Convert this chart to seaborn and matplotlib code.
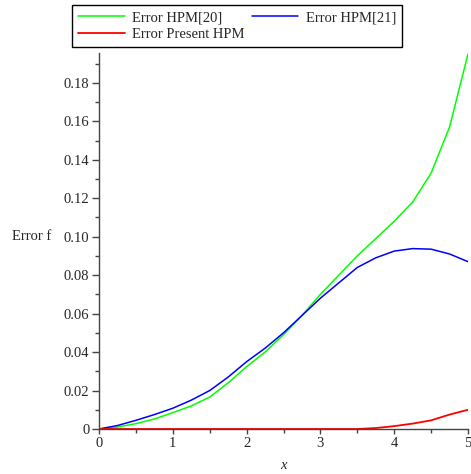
import numpy as np
import pandas as pd
import matplotlib
matplotlib.use('Agg')
import matplotlib.pyplot as plt
import seaborn as sns
from matplotlib.ticker import MultipleLocator, FuncFormatter

x_vals = [0, 0.25, 0.5, 0.75, 1, 1.25, 1.5, 1.75, 2, 2.25, 2.5, 2.75, 3,
          3.25, 3.5, 3.75, 4, 4.25, 4.5, 4.75, 5]
err_hpm20 = [0, 0.001, 0.0028, 0.0052, 0.0085, 0.012, 0.0166, 0.024, 0.0324, 0.040,
             0.049, 0.059, 0.070, 0.080, 0.090, 0.099, 0.108, 0.118, 0.133, 0.157, 0.195]
err_hpm21 = [0, 0.0018, 0.0045, 0.0075, 0.0108, 0.015, 0.020, 0.027, 0.035, 0.042,
             0.050, 0.059, 0.068, 0.076, 0.084, 0.089, 0.0925, 0.0938, 0.0935, 0.091, 0.087]
err_present = [0, 0, 0, 0, 0, 0, 0, 0, 0, 0, 0, 0, 0, 0, 0, 0.0005, 0.0015,
               0.0028, 0.0045, 0.0075, 0.010]

sns.set_style('ticks')
plt.rcParams['font.family'] = ['Liberation Serif', 'DejaVu Serif']

fig = plt.figure(figsize=(4.71, 4.74), dpi=100)
ax = fig.add_axes([99 / 471, 45 / 474, 369 / 471, 376 / 474])

sns.lineplot(x=x_vals, y=err_hpm20, ax=ax, color='#00ff00', linewidth=1.1, label='Error HPM[20]')
sns.lineplot(x=x_vals, y=err_hpm21, ax=ax, color='#0000ff', linewidth=1.1, label='Error HPM[21]')
sns.lineplot(x=x_vals, y=err_present, ax=ax, color='#ff0000', linewidth=1.3, label='Error Present HPM')

handles, labels = ax.get_legend_handles_labels()
ax.get_legend().remove()
order = [0, 2, 1]
leg = fig.legend([handles[i] for i in order], [labels[i] for i in order],
                 loc='upper left', bbox_to_anchor=(72 / 471, 1 - 5 / 474), ncol=2,
                 fontsize=10.5, frameon=True, fancybox=False, edgecolor='black',
                 handlelength=3.2, columnspacing=0.5, borderpad=0.4, labelspacing=0.25,
                 handletextpad=0.5, borderaxespad=0)
leg.get_frame().set_linewidth(1.0)
leg.get_frame().set_alpha(1)

ax.set_xlim(0, 5)
ax.set_ylim(0, 0.1955)
ax.xaxis.set_major_locator(MultipleLocator(1))
ax.xaxis.set_minor_locator(MultipleLocator(0.5))
ax.yaxis.set_major_locator(MultipleLocator(0.02))
ax.yaxis.set_minor_locator(MultipleLocator(0.01))
ax.yaxis.set_major_formatter(FuncFormatter(lambda v, p: '0' if abs(v) < 1e-9 else f'{v:.2f}'))
ax.xaxis.set_major_formatter(FuncFormatter(lambda v, p: f'{v:g}'))

sns.despine(ax=ax)
for s in ['left', 'bottom']:
    ax.spines[s].set_color('#444444')
    ax.spines[s].set_linewidth(1.0)
ax.tick_params(which='both', width=1, color='#444444')
ax.tick_params(axis='y', which='major', length=5, labelsize=10.5, pad=2)
ax.tick_params(axis='y', which='minor', length=3)
ax.tick_params(axis='x', which='major', length=3.6, labelsize=10.5, pad=2.5)
ax.tick_params(axis='x', which='minor', length=2.6)

ax.set_ylabel('Error f', rotation=0, ha='right', va='center', fontsize=10.5)
ax.yaxis.set_label_coords(-0.13, 0.1 / 0.1955)
ax.set_xlabel('x', fontstyle='italic', fontsize=10.5, va='center')
ax.xaxis.set_label_coords(0.5, -0.096)

fig.savefig('out.png', dpi=100)
